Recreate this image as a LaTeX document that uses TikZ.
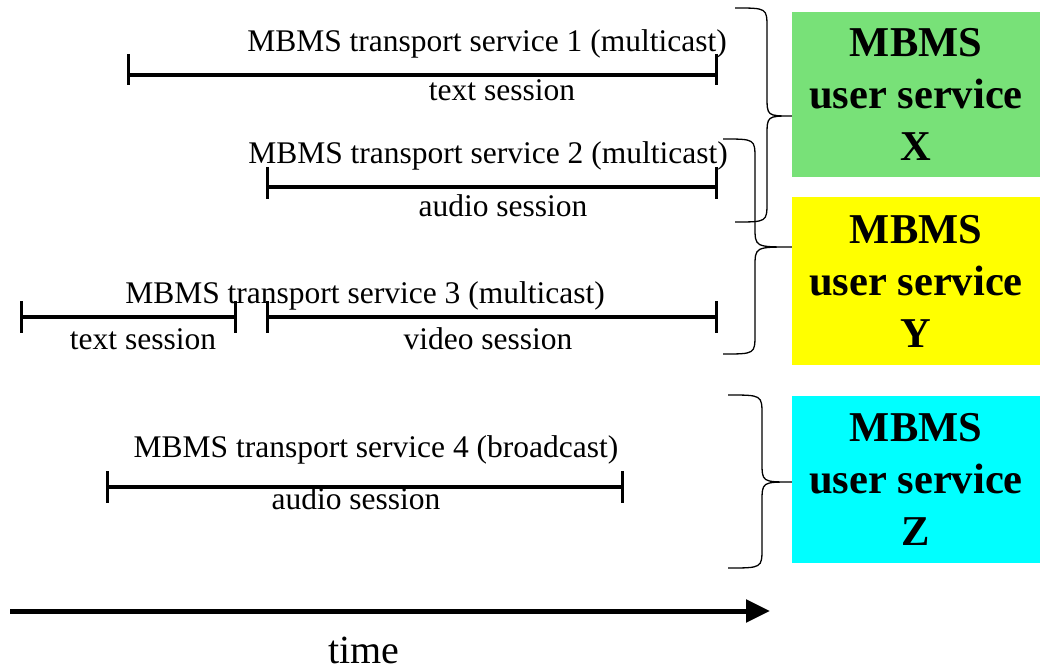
\documentclass[tikz,border=0pt]{standalone}
\usepackage{fontspec}
\setmainfont{Liberation Serif}
\usetikzlibrary{arrows.meta}
\definecolor{boxgreen}{RGB}{120,225,120}
\definecolor{boxyellow}{RGB}{255,255,0}
\definecolor{boxcyan}{RGB}{0,255,255}
\tikzset{
  tline/.style={line width=3.2pt},
  tick/.style={line width=3pt},
  lbl/.style={anchor=base, inner sep=0pt, font=\fontsize{31.5}{36}\selectfont},
  ubox/.style={minimum width=248pt, inner sep=0pt, align=center,
    font=\fontsize{42.5}{52}\selectfont\bfseries},
  brc/.style={line width=1.3pt},
}
\begin{document}
\begin{tikzpicture}[x=1pt,y=-1pt]
\useasboundingbox (0,0) rectangle (1040,671);

% user service boxes
\node[ubox, fill=boxgreen, minimum height=165pt] (ux) at (916,94.5) {MBMS\\user service\\X};
\node[ubox, fill=boxyellow, minimum height=168pt] (uy) at (916,281) {MBMS\\user service\\Y};
\node[ubox, fill=boxcyan, minimum height=167pt] (uz) at (916,479.5) {MBMS\\user service\\Z};

% transport service 1
\coordinate (a1) at (128,75);
\coordinate (b1) at (716,75);
\draw[tline] (a1) -- (b1);
\draw[tick] ([yshift=21pt]a1) -- ([yshift=-10pt]a1);
\draw[tick] ([yshift=21pt]b1) -- ([yshift=-10pt]b1);
\node[lbl] (t1) at (487,52) {MBMS transport service 1 (multicast)};
\node[lbl] (s1) at (502,101) {text session};

% transport service 2
\coordinate (a2) at (267,187);
\coordinate (b2) at (716,187);
\draw[tline] (a2) -- (b2);
\draw[tick] ([yshift=20pt]a2) -- ([yshift=-12pt]a2);
\draw[tick] ([yshift=20pt]b2) -- ([yshift=-12pt]b2);
\node[lbl] (t2) at (488,164) {MBMS transport service 2 (multicast)};
\node[lbl] (s2) at (503,216) {audio session};

% transport service 3
\coordinate (a3) at (21,317);
\coordinate (m3) at (235,317);
\coordinate (n3) at (267,317);
\coordinate (b3) at (716,317);
\draw[tline] (a3) -- (m3);
\draw[tline] (n3) -- (b3);
\foreach \p in {a3,m3,n3,b3}
  \draw[tick] ([yshift=16pt]\p) -- ([yshift=-16pt]\p);
\node[lbl] (t3) at (365,303) {MBMS transport service 3 (multicast)};
\node[lbl] (s3a) at (143,349) {text session};
\node[lbl] (s3b) at (488,349) {video session};

% transport service 4
\coordinate (a4) at (107,487);
\coordinate (b4) at (622,487);
\draw[tline] (a4) -- (b4);
\draw[tick] ([yshift=16pt]a4) -- ([yshift=-16pt]a4);
\draw[tick] ([yshift=16pt]b4) -- ([yshift=-16pt]b4);
\node[lbl] (t4) at (376,457) {MBMS transport service 4 (broadcast)};
\node[lbl] (s4) at (356,509) {audio session};

% braces
\draw[brc] (735,8) .. controls (767,8) .. (767,28) -- (767,96)
  .. controls (767,116) .. (ux.west |- 0,116)
  .. controls (767,116) .. (767,136) -- (767,202)
  .. controls (767,222) .. (735,222);
\draw[brc] (723,139) .. controls (755,139) .. (755,159) -- (755,227)
  .. controls (755,247) .. (uy.west |- 0,247)
  .. controls (755,247) .. (755,267) -- (755,334)
  .. controls (755,354) .. (723,354);
\draw[brc] (728,395) .. controls (762,395) .. (762,415) -- (762,462)
  .. controls (762,482) .. (uz.west |- 0,482)
  .. controls (762,482) .. (762,502) -- (762,548)
  .. controls (762,568) .. (728,568);

% time axis
\coordinate (ts) at (10,611);
\coordinate (te) at (770,611);
\draw[line width=5pt, -{Triangle[length=24pt,width=22pt]}] (ts) -- (te);
\node[anchor=base, inner sep=0pt, font=\fontsize{40}{46}\selectfont] (time) at (364,663) {time};
\end{tikzpicture}
\end{document}
